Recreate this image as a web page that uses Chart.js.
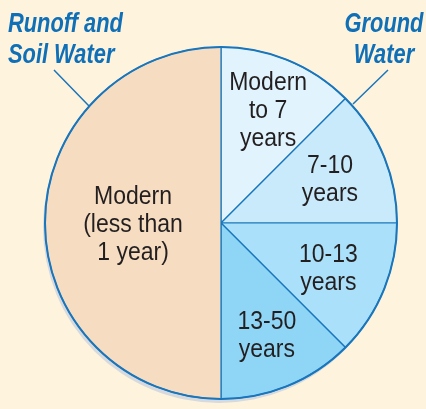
<!DOCTYPE html>
<html>
<head>
<meta charset="utf-8">
<script src="https://cdn.jsdelivr.net/npm/chart.js@4/dist/chart.umd.min.js"></script>
<style>
  html, body { margin: 0; padding: 0; background: #fef3dd; }
  canvas { display: block; }
</style>
</head>
<body>
<canvas id="chart" width="426" height="409"></canvas>
<script>
// datos del pastel (desde arriba, sentido horario)
const categories = ['Modern to 7 years', '7-10 years', '10-13 years', '13-50 years', 'Modern (less than 1 year)'];
const labelLines = [['Modern', 'to 7', 'years'], ['7-10', 'years'], ['10-13', 'years'], ['13-50', 'years'], ['Modern', '(less than', '1 year)']];
const values = [12.5, 12.5, 12.5, 12.5, 50];
const groupLeft = ['Runoff and', 'Soil Water'];
const groupRight = ['Ground', 'Water'];

const sliceColors = ['#e1f4fd', '#c8eafa', '#aae0f9', '#8fd6f6', '#f6dcc1'];
const labelRadius = [0.7, 0.67, 0.66, 0.68, 0.5];
const blue = '#1a76bc';

// texto condensado: escala horizontal
function drawText(ctx, txt, x, y, font, sx, align) {
  ctx.save();
  ctx.font = font;
  ctx.textBaseline = 'alphabetic';
  const w = ctx.measureText(txt).width * sx;
  let left = x;
  if (align === 'center') left = x - w / 2;
  if (align === 'right') left = x - w;
  ctx.translate(left, y);
  ctx.scale(sx, 1);
  ctx.textAlign = 'left';
  ctx.fillText(txt, 0, 0);
  ctx.restore();
}

const piePlugin = {
  id: 'piePlugin',
  beforeDraw(chart) {
    const ctx = chart.ctx;
    ctx.save();
    ctx.fillStyle = '#fef3dd';
    ctx.fillRect(0, 0, chart.width, chart.height);
    ctx.restore();
  },
  beforeDatasetsDraw(chart) {
    const arc = chart.getDatasetMeta(0).data[0];
    const ctx = chart.ctx;
    ctx.save();
    ctx.fillStyle = '#d6d9dd';
    ctx.beginPath();
    ctx.arc(arc.x - 2, arc.y + 4, arc.outerRadius, 0, Math.PI * 2);
    ctx.fill();
    ctx.restore();
  },
  afterDatasetsDraw(chart) {
    const ctx = chart.ctx;
    const meta = chart.getDatasetMeta(0);
    const cx = meta.data[0].x, cy = meta.data[0].y, r = meta.data[0].outerRadius;

    // borde exterior
    ctx.save();
    ctx.strokeStyle = blue;
    ctx.lineWidth = 2;
    ctx.beginPath();
    ctx.arc(cx, cy, r, 0, Math.PI * 2);
    ctx.stroke();

    // etiquetas internas
    ctx.fillStyle = '#231f20';
    meta.data.forEach((a, i) => {
      const mid = (a.startAngle + a.endAngle) / 2;
      const d = r * labelRadius[i];
      const x = cx + Math.cos(mid) * d;
      const y = cy + Math.sin(mid) * d;
      const lines = labelLines[i];
      lines.forEach((t, j) => {
        const capMid = y + (j - (lines.length - 1) / 2) * 28;
        drawText(ctx, t, x, capMid + 9, '25px "Liberation Sans", Arial, sans-serif', 0.92, 'center');
      });
    });

    // lineas guia
    ctx.strokeStyle = blue;
    ctx.lineWidth = 1.5;
    ctx.beginPath();
    ctx.moveTo(54, 70);
    ctx.lineTo(89, 106);
    ctx.moveTo(388, 70);
    ctx.lineTo(353, 104);
    ctx.stroke();

    // titulos de grupo
    ctx.fillStyle = '#0f6fb7';
    const f = 'italic bold 28px "Liberation Sans", Arial, sans-serif';
    drawText(ctx, groupLeft[0], 8, 32, f, 0.78, 'left');
    drawText(ctx, groupLeft[1], 8, 63, f, 0.78, 'left');
    drawText(ctx, groupRight[0], 384, 32, f, 0.78, 'center');
    drawText(ctx, groupRight[1], 384, 63, f, 0.78, 'center');
    ctx.restore();
  }
};

new Chart(document.getElementById('chart'), {
  type: 'pie',
  data: {
    labels: categories,
    datasets: [{
      data: values,
      backgroundColor: sliceColors,
      borderColor: blue,
      borderWidth: 1.2
    }]
  },
  options: {
    responsive: false,
    animation: false,
    radius: 176,
    layout: { padding: { left: 16, right: 0, top: 37, bottom: 0 } },
    plugins: {
      legend: { display: false },
      tooltip: { enabled: false }
    }
  },
  plugins: [piePlugin]
});
</script>
</body>
</html>
